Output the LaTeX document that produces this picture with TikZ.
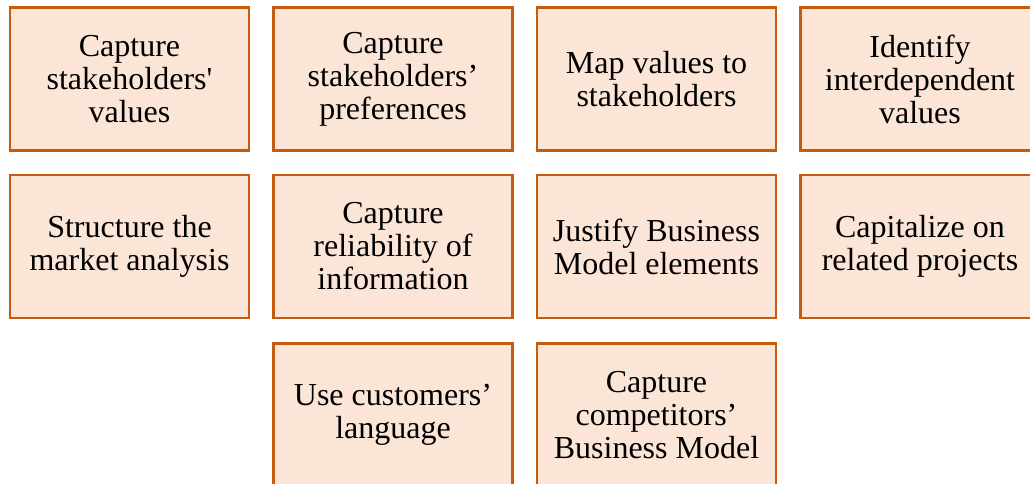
\documentclass[tikz,border=0pt]{standalone}
\usepackage{fontspec}
\setmainfont{Liberation Serif}
\newfontfamily\rawserif[Ligatures=TeXOff]{Liberation Serif}
\definecolor{boxfill}{HTML}{FBE5D6}
\definecolor{boxline}{HTML}{C55A11}
\begin{document}
\begin{tikzpicture}[x=0.75pt,y=-0.75pt,
  goalbox/.style={draw=boxline, fill=boxfill, line width=1.9pt, rectangle,
    minimum width=179.5pt, minimum height=107pt, inner sep=0pt,
    align=center, font=\fontsize{24}{24.75}\selectfont}]
\useasboundingbox (0,0) rectangle (1030,484);
\clip (0,0) rectangle (1030,484);
\node[goalbox] (v1) at (129.5,79) {Capture\\stakeholders{\rawserif'}\\values};
\node[goalbox] (v2) at (393,79) {Capture\\stakeholders’\\preferences};
\node[goalbox] (v3) at (656.5,79) {Map values to\\stakeholders};
\node[goalbox] (v4) at (920,79) {Identify\\interdependent\\values};
\node[goalbox] (m1) at (129.5,246.5) {Structure the\\market analysis};
\node[goalbox] (m2) at (393,246.5) {Capture\\reliability of\\information};
\node[goalbox] (m3) at (656.5,246.5) {Justify Business\\Model elements};
\node[goalbox] (m4) at (920,246.5) {Capitalize on\\related projects};
\node[goalbox] (b2) at (393,415) {Use customers’\\language};
\node[goalbox] (b3) at (656.5,415) {Capture\\competitors’\\Business Model};
\end{tikzpicture}
\end{document}
